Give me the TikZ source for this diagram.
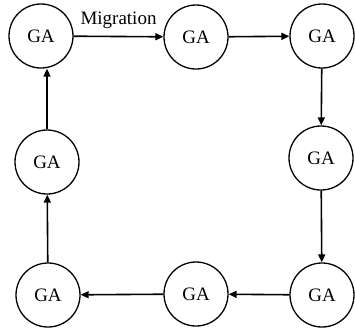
\documentclass[tikz,border=0pt]{standalone}
\usepackage{fontspec}
\setmainfont{Liberation Serif}
\usetikzlibrary{positioning,arrows.meta}

\begin{document}
\begin{tikzpicture}[%
    x=1pt,
    y=-1pt,
    ga/.style={%
        draw,
        circle,
        line width=1.3pt,
        inner sep=2pt,
        minimum size=64pt,
        font=\fontsize{19}{22}\selectfont
    },
    link/.style={%
        ->,
        line width=1.6pt
    },
    >={Stealth[length=8pt,width=7pt,inset=0pt]}
]

\useasboundingbox (0,0) rectangle (355,327);

% Top row
\node[ga] (ga1) at (41,36) {GA};
\node[ga] (ga2) at (196,37) {GA};
\node[ga] (ga3) at (322,36) {GA};

% Middle row
\node[ga] (ga4) at (47,162) {GA};
\node[ga] (ga5) at (321,158) {GA};

% Bottom row
\node[ga] (ga6) at (48,295) {GA};
\node[ga] (ga7) at (196,294) {GA};
\node[ga] (ga8) at (322,295) {GA};

% Arrows
\draw[link] (ga1) -- node[above=4pt, font=\fontsize{19}{22}\selectfont] {Migration} (ga2);
\draw[link] (ga2) -- (ga3);

\draw[link] (ga3) -- (ga5);
\draw[link] (ga5) -- (ga8);

\draw[link] (ga8) -- (ga7);
\draw[link] (ga7) -- (ga6);

\draw[link] (ga6) -- (ga4);
\draw[link] (ga4.north) -- (ga4.north |- ga1.south);

\end{tikzpicture}
\end{document}
